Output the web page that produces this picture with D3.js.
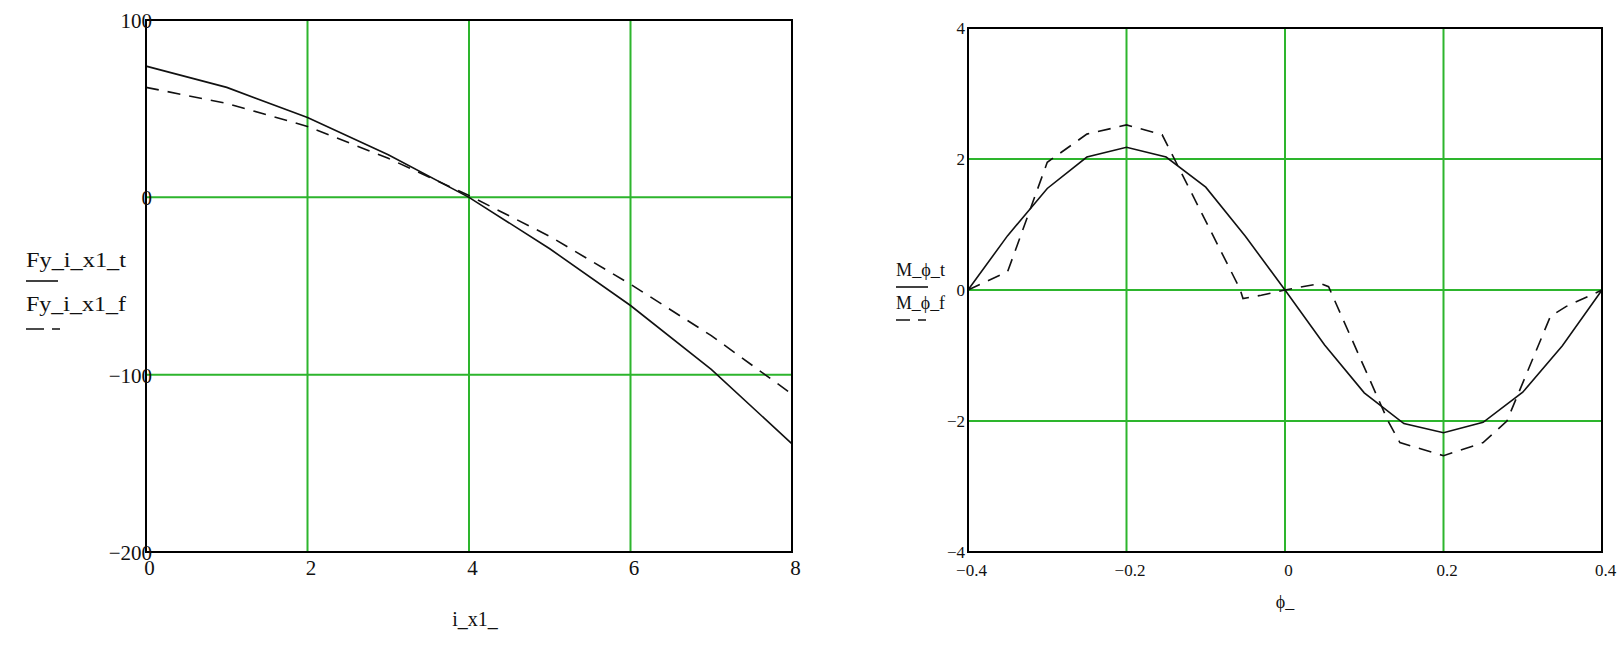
<!DOCTYPE html>
<html><head><meta charset="utf-8">
<script src="https://cdn.jsdelivr.net/npm/d3@7"></script>
<style>
html,body{margin:0;padding:0;background:#fff;}
svg{display:block;}
text{font-family:"Liberation Serif","Times New Roman",serif;fill:#111;}
</style></head>
<body>
<svg id="c" width="1623" height="652"></svg>
<script>
// ---------- Left chart data ----------
const leftX = [0, 1, 2, 3, 4, 5, 6, 7, 8];
const leftT = [74, 62, 45, 24, 0, -29, -61, -97, -139];
const leftF = [62, 53, 40, 22, 1, -22, -49, -78, -111];
const leftXTicks = [0, 2, 4, 6, 8];
const leftYTicks = [100, 0, -100, -200];
const leftXGrid = [2, 4, 6];
const leftYGrid = [0, -100];

// ---------- Right chart data ----------
const rightXT = [-0.4, -0.35, -0.3, -0.25, -0.2, -0.15, -0.1, -0.05, 0, 0.05, 0.1, 0.15, 0.2, 0.25, 0.3, 0.35, 0.4];
const rightT  = [0, 0.83, 1.55, 2.03, 2.18, 2.03, 1.57, 0.82, 0, -0.84, -1.57, -2.04, -2.18, -2.02, -1.56, -0.85, 0];
const rightXF = [-0.4, -0.35, -0.3, -0.25, -0.2, -0.155, -0.057, -0.053, -0.03, 0, 0.045, 0.055, 0.13, 0.145, 0.2, 0.25, 0.28, 0.335, 0.355, 0.4];
const rightF  = [0, 0.28, 1.95, 2.38, 2.52, 2.37, 0.02, -0.13, -0.08, 0, 0.1, 0.05, -2.0, -2.33, -2.53, -2.33, -2.0, -0.4, -0.25, 0];
const rightXTicks = [-0.4, -0.2, 0, 0.2, 0.4];
const rightYTicks = [4, 2, 0, -2, -4];
const rightXGrid = [-0.2, 0, 0.2];
const rightYGrid = [2, 0, -2];

const svg = d3.select("#c");
const GRID = "#2db52d";
const fmtMinus = v => (v < 0 ? "\u2212" : "") + String(Math.abs(v));

function chart(o) {
  const x = d3.scaleLinear().domain(o.xd).range([o.x0, o.x1]);
  const y = d3.scaleLinear().domain(o.yd).range([o.y1, o.y0]);
  const g = svg.append("g");
  // grid
  g.selectAll(".gx").data(o.xGrid).join("line")
    .attr("x1", d => x(d)).attr("x2", d => x(d)).attr("y1", o.y0).attr("y2", o.y1)
    .attr("stroke", GRID).attr("stroke-width", 2);
  g.selectAll(".gy").data(o.yGrid).join("line")
    .attr("y1", d => y(d)).attr("y2", d => y(d)).attr("x1", o.x0).attr("x2", o.x1)
    .attr("stroke", GRID).attr("stroke-width", 2);
  // lines
  const lt = d3.line().x((d, i) => x(o.xt[i])).y(d => y(d));
  const lf = d3.line().x((d, i) => x(o.xf[i])).y(d => y(d));
  g.append("path").attr("d", lt(o.t)).attr("fill", "none").attr("stroke", "#111").attr("stroke-width", 1.6);
  g.append("path").attr("d", lf(o.f)).attr("fill", "none").attr("stroke", "#111").attr("stroke-width", 1.6)
    .attr("stroke-dasharray", "13,9");
  // frame
  g.append("rect").attr("x", o.x0).attr("y", o.y0).attr("width", o.x1 - o.x0).attr("height", o.y1 - o.y0)
    .attr("fill", "none").attr("stroke", "#000").attr("stroke-width", 2);
  // axes (labels only)
  const ay = g.append("g").attr("transform", `translate(${o.x0 + o.yLabDx},0)`)
    .call(d3.axisLeft(y).tickValues(o.yTicks).tickSize(0).tickPadding(0).tickFormat(fmtMinus));
  ay.select(".domain").remove();
  ay.selectAll("text").attr("font-family", o.font).attr("font-size", o.fs).attr("fill", "#111").attr("dy", "0.35em");
  const ax = g.append("g").attr("transform", `translate(${o.xLabDx},${o.y1 + o.xLabDy})`)
    .call(d3.axisBottom(x).tickValues(o.xTicks).tickSize(0).tickPadding(0).tickFormat(fmtMinus));
  ax.select(".domain").remove();
  ax.selectAll("text").attr("font-family", o.font).attr("font-size", o.fs).attr("fill", "#111").attr("dy", "0");
  // x title
  g.append("text").attr("x", (o.x0 + o.x1) / 2 + o.titleDx).attr("y", o.titleY).attr("text-anchor", "middle")
    .attr("font-size", o.titleFs).text(o.xTitle);
  // legend
  const L = o.leg;
  g.append("text").attr("x", L.x).attr("y", L.y1).attr("font-size", L.fs)
    .attr("textLength", L.w).attr("lengthAdjust", "spacingAndGlyphs").text(o.nameT);
  g.append("line").attr("x1", L.x).attr("x2", L.x + L.solidW).attr("y1", L.l1).attr("y2", L.l1)
    .attr("stroke", "#111").attr("stroke-width", 1.6);
  g.append("text").attr("x", L.x).attr("y", L.y2).attr("font-size", L.fs)
    .attr("textLength", L.w).attr("lengthAdjust", "spacingAndGlyphs").text(o.nameF);
  g.append("line").attr("x1", L.x).attr("x2", L.x + L.dashW).attr("y1", L.l2).attr("y2", L.l2)
    .attr("stroke", "#111").attr("stroke-width", 1.6).attr("stroke-dasharray", L.dash);
}

chart({
  xd: [0, 8], yd: [-200, 100], x0: 146, x1: 792, y0: 20, y1: 552,
  xt: leftX, xf: leftX, t: leftT, f: leftF,
  xTicks: leftXTicks, yTicks: leftYTicks, xGrid: leftXGrid, yGrid: leftYGrid,
  font: "Liberation Serif", fs: 21, yLabDx: 6, xLabDx: 3, xLabDy: 23,
  xTitle: "i_x1_", titleY: 626, titleDx: 6, titleFs: 20,
  nameT: "Fy_i_x1_t", nameF: "Fy_i_x1_f",
  leg: { x: 26, y1: 267, y2: 311, l1: 281, l2: 329, w: 100, fs: 21, solidW: 32, dashW: 34, dash: "18,8" }
});

chart({
  xd: [-0.4, 0.4], yd: [-4, 4], x0: 968, x1: 1602, y0: 28, y1: 552,
  xt: rightXT, xf: rightXF, t: rightT, f: rightF,
  xTicks: rightXTicks, yTicks: rightYTicks, xGrid: rightXGrid, yGrid: rightYGrid,
  font: "Liberation Serif", fs: 17, yLabDx: -3, xLabDx: 3, xLabDy: 24,
  xTitle: "\u03D5_", titleY: 608, titleDx: 0, titleFs: 18,
  nameT: "M_\u03D5_t", nameF: "M_\u03D5_f",
  leg: { x: 896, y1: 276, y2: 309, l1: 287, l2: 320, w: 49, fs: 18, solidW: 32, dashW: 30, dash: "14,8" }
});
</script>
</body></html>
